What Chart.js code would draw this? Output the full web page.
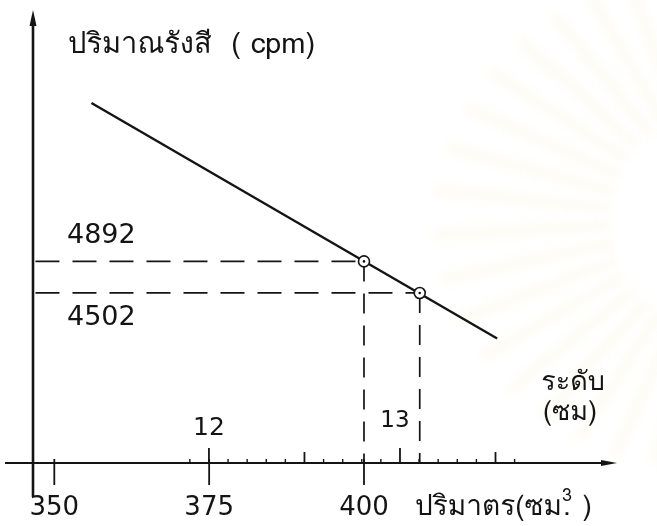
<!DOCTYPE html>
<html>
<head>
<meta charset="utf-8">
<script src="https://cdn.jsdelivr.net/npm/chart.js@4.4.1/dist/chart.umd.min.js"></script>
<style>
  html, body { margin: 0; padding: 0; background: #ffffff; }
  canvas { display: block; }
</style>
</head>
<body>
<canvas id="chart" width="657" height="526"></canvas>
<script>
// Volume (cm^3) ticks along the horizontal axis, and matching liquid level (cm) ticks
const volumeTicks = [350, 375, 400];
const levelTicks = [12, 13];
const levelMinorStart = 11.9;
const levelMinorEnd = 13.6;

// Calibration line: radiation count (cpm) against volume
const lineVolume = [356, 421.5];
const lineCpm = [6850, 3940];

const pointVolume = [400, 409];
const pointCpm = [4892, 4502];
const pointLabels = ['4892', '4502'];

const ink = '#141414';
const thaiFont = "'Norasi','Tlwg Typo','Kinnari','Loma','Garuda','Noto Serif Thai','Noto Sans Thai','Liberation Serif',serif";
const digitFont = "'DejaVu Sans', sans-serif";

const X_MIN = 346.56, X_MAX = 440.85;
const Y_MIN = 2400, Y_MAX = 8000;

// Dashed guides from each point to both axes
const guideSets = [];
pointVolume.forEach((v, i) => {
  guideSets.push({
    data: [{ x: X_MIN + 0.4, y: pointCpm[i] }, { x: v, y: pointCpm[i] }],
    borderColor: ink, borderWidth: 1.7, borderDash: [24, 13],
    pointRadius: 0, order: 3
  });
  guideSets.push({
    data: [{ x: v, y: pointCpm[i] }, { x: v, y: Y_MIN }],
    borderColor: ink, borderWidth: 1.7, borderDash: [20, 12],
    pointRadius: 0, order: 3
  });
});

const sketch = {
  id: 'sketch',
  beforeDraw(chart) {
    const ctx = chart.ctx;
    ctx.save();
    ctx.fillStyle = '#ffffff';
    ctx.fillRect(0, 0, chart.width, chart.height);
    // faint sunburst seal in the background on the right
    ctx.filter = 'blur(5px)';
    const cx = 720, cy = 220;
    for (let a = 96; a <= 272; a += 9) {
      const r = a * Math.PI / 180;
      const inner = 110, outer = 290 - Math.abs(a - 180) * 0.5;
      const w = 0.045;
      ctx.beginPath();
      ctx.moveTo(cx + inner * Math.cos(r - w), cy + inner * Math.sin(r - w));
      ctx.lineTo(cx + outer * Math.cos(r - w * 0.45), cy + outer * Math.sin(r - w * 0.45));
      ctx.lineTo(cx + outer * Math.cos(r + w * 0.45), cy + outer * Math.sin(r + w * 0.45));
      ctx.lineTo(cx + inner * Math.cos(r + w), cy + inner * Math.sin(r + w));
      ctx.closePath();
      ctx.fillStyle = 'rgba(240, 222, 160, 0.12)';
      ctx.fill();
    }
    ctx.filter = 'none';
    ctx.restore();
  },
  beforeDatasetsDraw(chart) {
    const ctx = chart.ctx;
    const xs = chart.scales.x, ys = chart.scales.y, ls = chart.scales.level;
    const ox = xs.left, oy = ys.bottom;
    ctx.save();
    ctx.strokeStyle = ink;
    ctx.fillStyle = ink;
    ctx.lineCap = 'butt';

    // vertical axis with arrow
    ctx.lineWidth = 2.6;
    ctx.beginPath();
    ctx.moveTo(ox, ys.top + 8);
    ctx.lineTo(ox, oy + 34);
    ctx.stroke();
    ctx.beginPath();
    ctx.moveTo(ox, ys.top);
    ctx.lineTo(ox - 3.5, ys.top + 16);
    ctx.lineTo(ox + 3.5, ys.top + 16);
    ctx.closePath();
    ctx.fill();

    // horizontal axis with arrow
    ctx.lineWidth = 2.2;
    ctx.beginPath();
    ctx.moveTo(5, oy);
    ctx.lineTo(xs.right - 8, oy);
    ctx.stroke();
    ctx.beginPath();
    ctx.moveTo(xs.right, oy);
    ctx.lineTo(xs.right - 16, oy - 3);
    ctx.lineTo(xs.right - 16, oy + 3);
    ctx.closePath();
    ctx.fill();

    // volume ticks below the axis
    ctx.lineWidth = 1.8;
    volumeTicks.forEach(v => {
      const px = xs.getPixelForValue(v);
      ctx.beginPath();
      ctx.moveTo(px, oy - 4);
      ctx.lineTo(px, oy + 22);
      ctx.stroke();
    });

    // level ticks above the axis (every 0.1 cm)
    const n = Math.round((levelMinorEnd - levelMinorStart) * 10);
    for (let k = 0; k <= n; k++) {
      const lv = Math.round((levelMinorStart + k * 0.1) * 10) / 10;
      const px = ls.getPixelForValue(lv);
      let h = 4;
      if (levelTicks.includes(lv)) h = 15;
      else if (Math.abs(lv * 2 - Math.round(lv * 2)) < 1e-6) h = 11;
      ctx.lineWidth = h > 4 ? 1.8 : 1.4;
      ctx.beginPath();
      ctx.moveTo(px, oy);
      ctx.lineTo(px, oy - h);
      ctx.stroke();
    }
    ctx.restore();
  },
  afterDraw(chart) {
    const ctx = chart.ctx;
    const xs = chart.scales.x, ys = chart.scales.y, ls = chart.scales.level;
    const oy = ys.bottom;
    ctx.save();
    ctx.fillStyle = ink;
    ctx.textBaseline = 'middle';
    ctx.textAlign = 'center';

    // volume tick labels
    ctx.font = '26px ' + digitFont;
    volumeTicks.forEach(v => {
      ctx.fillText(String(v), xs.getPixelForValue(v), oy + 45);
    });

    // level tick labels
    ctx.font = '25px ' + digitFont;
    ctx.fillText(String(levelTicks[0]), ls.getPixelForValue(levelTicks[0]), oy - 35);
    ctx.font = '23px ' + digitFont;
    ctx.fillText(String(levelTicks[1]), ls.getPixelForValue(levelTicks[1]) - 5, oy - 42);

    // count labels next to the dashed guides
    ctx.font = '27px ' + digitFont;
    ctx.textAlign = 'left';
    ctx.fillText(pointLabels[0], 67, ys.getPixelForValue(pointCpm[0]) - 25);
    ctx.fillText(pointLabels[1], 67, ys.getPixelForValue(pointCpm[1]) + 25);

    // axis titles
    ctx.textBaseline = 'alphabetic';
    ctx.font = '29px ' + thaiFont;
    ctx.fillText('ปริมาณรังสี  ( cpm)', 68, 53);

    ctx.font = '27px ' + thaiFont;
    ctx.textAlign = 'center';
    ctx.fillText('ระดับ', 573, 390);
    ctx.fillText('(ซม)', 570, 420);

    ctx.textAlign = 'left';
    ctx.font = '28px ' + thaiFont;
    let tx = 415;
    const base = 515;
    const head = 'ปริมาตร(ซม';
    ctx.fillText(head, tx, base);
    tx += ctx.measureText(head).width;
    ctx.fillText('.', tx + 1, base);
    ctx.font = '18px ' + thaiFont;
    ctx.fillText('3', tx, base - 14);
    ctx.font = '28px ' + thaiFont;
    tx += 11;
    ctx.fillText(' )', tx, base);
    ctx.restore();
  }
};

new Chart(document.getElementById('chart'), {
  type: 'scatter',
  data: {
    datasets: [
      {
        // open circles marking the measured points
        data: pointVolume.map((v, i) => ({ x: v, y: pointCpm[i] })),
        showLine: false,
        pointRadius: 5.5,
        pointBackgroundColor: '#ffffff',
        pointBorderColor: ink,
        pointBorderWidth: 1.6,
        order: 1
      },
      {
        // centre dots of the circles
        data: pointVolume.map((v, i) => ({ x: v, y: pointCpm[i] })),
        showLine: false,
        pointRadius: 1.3,
        pointBackgroundColor: ink,
        pointBorderWidth: 0,
        order: 0
      },
      {
        // calibration line
        data: lineVolume.map((v, i) => ({ x: v, y: lineCpm[i] })),
        showLine: true,
        borderColor: ink,
        borderWidth: 2.4,
        pointRadius: 0,
        order: 2
      },
      ...guideSets.map(s => Object.assign({ showLine: true }, s))
    ]
  },
  options: {
    responsive: false,
    animation: false,
    devicePixelRatio: 1,
    layout: { padding: { left: 33, top: 10, right: 40, bottom: 63 } },
    plugins: { legend: { display: false }, tooltip: { enabled: false } },
    scales: {
      x: { type: 'linear', min: X_MIN, max: X_MAX, display: false },
      level: { type: 'linear', axis: 'x', min: 11.079, max: 14.136, display: false },
      y: { type: 'linear', min: Y_MIN, max: Y_MAX, display: false }
    }
  },
  plugins: [sketch]
});
</script>
</body>
</html>
